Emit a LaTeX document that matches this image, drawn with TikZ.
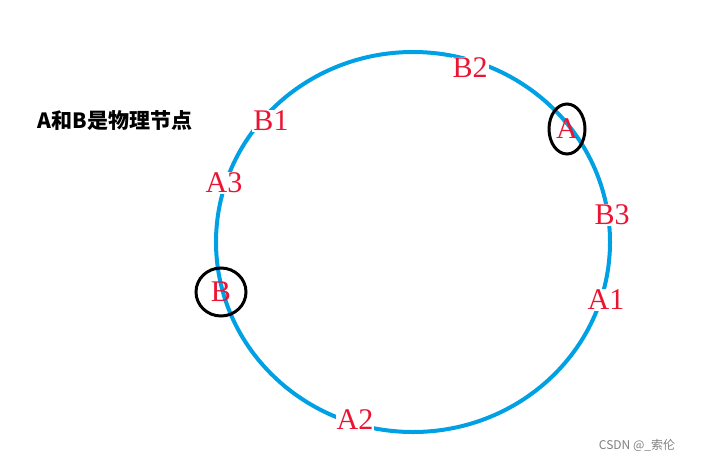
\documentclass[tikz,border=0pt]{standalone}
\usepackage{fontspec}
\newfontfamily\cjk{Noto Sans CJK SC}
\newfontfamily\labfont{Liberation Serif}
\definecolor{ring}{RGB}{0,160,228}
\definecolor{lab}{RGB}{235,20,50}
\begin{document}
\begin{tikzpicture}[x=1pt,y=-1pt,
  lbl/.style={fill=white,text=lab,inner sep=1pt,font=\labfont\fontsize{30}{30}\selectfont}]
\useasboundingbox (0,0) rectangle (706,461);
\draw[ring,line width=4pt] (413,242) ellipse [x radius=197, y radius=190];
\node[lbl] (b2) at (470,68) {B2};
\node[lbl] (b1) at (271,121) {B1};
\node[lbl] (a3) at (224,183) {A3};
\node[lbl] (b3) at (612,215) {B3};
\node[lbl] (a1) at (606,300) {A1};
\node[lbl] (a2) at (355,420) {A2};
\node[lbl,fill=none] (a) at (567,129) {A};
\draw[line width=3pt] (a) ellipse [x radius=18, y radius=25];
\node[lbl,fill=none] (b) at (221,292) {B};
\draw[line width=3pt] (b) ellipse [x radius=25, y radius=24];
\node[font=\cjk\bfseries\fontsize{21}{21}\selectfont] (t) at (115,121) {A和B是物理节点};
\node[font=\cjk\fontsize{12}{12}\selectfont,text=gray] (w) at (637,445) {CSDN @\_索伦};
\end{tikzpicture}
\end{document}
